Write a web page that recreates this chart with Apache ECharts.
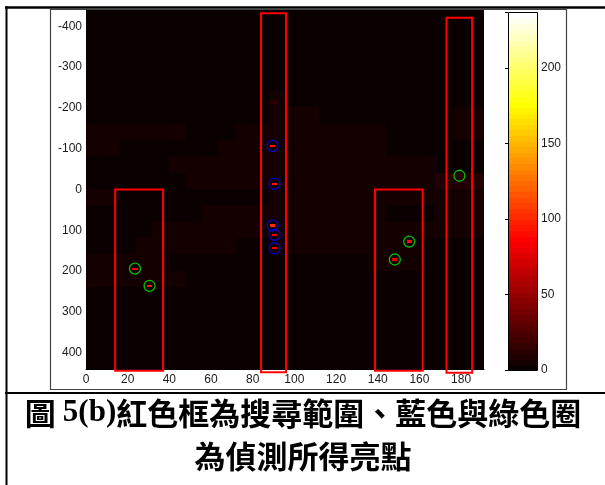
<!DOCTYPE html>
<html>
<head>
<meta charset="utf-8">
<script src="https://cdn.jsdelivr.net/npm/echarts@6/dist/echarts.min.js"></script>
<style>
html, body { margin: 0; padding: 0; background: #ffffff; }
#chart { width: 605px; height: 485px; }
</style>
</head>
<body>
<div id="chart"></div>
<script>
// Axis ticks shown on the Hough plane and on the colour bar
const thetaTicks = [0, 20, 40, 60, 80, 100, 120, 140, 160, 180];
const rhoTicks = [-400, -300, -200, -100, 0, 100, 200, 300, 400];
const colorTicks = [0, 50, 100, 150, 200];
const thetaRange = [0, 191];
const rhoRange = [-440, 440];
const voteMax = 237;

// Background accumulator: one row per 40 rho (from -440), one char per 8 theta (from 0);
// each char is the vote count in units of 3 votes.
const bgTheta0 = 0, bgThetaStep = 8, bgRho0 = -440, bgRhoStep = 40, bgUnit = 3;
const bgRows = [
  '000000000000000000000000',
  '000000000000000000000000',
  '000000000000000000000000',
  '000000000110000111000011',
  '000011101111000011111000',
  '000011101112111111111111',
  '111111111112221111111122',
  '222222111222222222111122',
  '221111112222222222111111',
  '111112222222222222222111',
  '111111222222222222222333',
  '221111111112222222222222',
  '111111122222222222111222',
  '111122222222222222222222',
  '111222222112222222221111',
  '222221111111111112221000',
  '222222111111111111110000',
  '111111110000000000000000',
  '111001110000000000000000',
  '110011100000000000000000',
  '100000000000000000000000',
  '000000000000000000000000'
];

// Accumulator peaks: [theta, rho, votes]
const peaks = [
  [89.6, -107, 95],
  [90.5, -14, 90],
  [89.6, 88.5, 100],
  [90.5, 111, 80],
  [90.5, 144, 78],
  [90, -215, 12],
  [23.5, 194, 85],
  [30.5, 236, 95],
  [155.1, 127.6, 90],
  [148.2, 171.6, 75],
  [179.2, -33.7, 12]
];

// Search windows: [thetaFrom, thetaTo, rhoFrom, rhoTo]
const searchBoxes = [
  [14, 37, 0, 444],
  [84, 96, -432, 448],
  [138.7, 161.6, 0, 444],
  [173, 185.3, -421, 449]
];

// Detected bright points: [theta, rho]
const blueHits = [[89.6, -107], [90.5, -14], [89.6, 88.5], [90.5, 111], [90.5, 144]];
const greenHits = [[23.5, 194], [30.5, 236], [155.1, 127.6], [148.2, 171.6], [179.2, -33.7]];

// MATLAB-style hot(64) colour map
function hotIndexColor(i) {
  const r = Math.min(1, (i + 1) / 24);
  const g = Math.min(1, Math.max(0, (i + 1 - 24) / 24));
  const b = Math.max(0, (i + 1 - 48) / 16);
  const h = (x) => Math.round(x * 255);
  return 'rgb(' + h(r) + ',' + h(g) + ',' + h(b) + ')';
}
function hot64(v) {
  const i = Math.min(63, Math.max(0, Math.floor(v / voteMax * 64)));
  return hotIndexColor(i);
}

// Cells: [theta0, rho0, dTheta, dRho, votes]
const cells = [];
bgRows.forEach((row, r) => {
  for (let c = 0; c < row.length; c++) {
    cells.push([bgTheta0 + c * bgThetaStep, bgRho0 + r * bgRhoStep, bgThetaStep, bgRhoStep, Number(row[c]) * bgUnit]);
  }
});
peaks.forEach(p => {
  const faint = p[2] < 40;
  const dT = faint ? 3 : 2, dR = faint ? 8 : 3;
  cells.push([p[0] - dT / 2, p[1] - dR / 2, dT, dR, p[2]]);
});

// Colour bar bands: [votesFrom, votesTo, index]
const bands = [];
for (let i = 0; i < 64; i++) bands.push([i * voteMax / 64, (i + 1) * voteMax / 64, i]);

function cellRender(params, api) {
  const x0 = api.value(0), y0 = api.value(1), w = api.value(2), h = api.value(3);
  const p0 = api.coord([x0, y0]);
  const p1 = api.coord([x0 + w, y0 + h]);
  const x = Math.floor(Math.min(p0[0], p1[0]));
  const y = Math.floor(Math.min(p0[1], p1[1]));
  const wpx = Math.ceil(Math.max(p0[0], p1[0])) - x;
  const hpx = Math.ceil(Math.max(p0[1], p1[1])) - y;
  return {
    type: 'rect',
    shape: { x: x, y: y, width: wpx, height: hpx },
    style: { fill: hot64(api.value(4)) }
  };
}

function boxRender(params, api) {
  const p0 = api.coord([api.value(0), api.value(2)]);
  const p1 = api.coord([api.value(1), api.value(3)]);
  return {
    type: 'rect',
    shape: {
      x: Math.min(p0[0], p1[0]), y: Math.min(p0[1], p1[1]),
      width: Math.abs(p1[0] - p0[0]), height: Math.abs(p1[1] - p0[1])
    },
    style: { fill: null, stroke: '#ff0000', lineWidth: 2 }
  };
}

// Colour bar: one band per colour-map entry, framed by a thin black box
function bandRender(params, api) {
  const p0 = api.coord([0, api.value(0)]);
  const p1 = api.coord([1, api.value(1)]);
  const y = Math.floor(Math.min(p0[1], p1[1]));
  const band = {
    type: 'rect',
    shape: { x: p0[0], y: y, width: p1[0] - p0[0], height: Math.ceil(Math.abs(p1[1] - p0[1])) + 1 },
    style: { fill: hotIndexColor(api.value(2)) }
  };
  if (params.dataIndex !== bands.length - 1) return band;
  const lo = api.coord([0, 0]);
  const hi = api.coord([1, voteMax]);
  return {
    type: 'group',
    children: [
      band,
      {
        type: 'rect', z2: 10,
        shape: { x: Math.round(lo[0]) + 0.5, y: Math.round(hi[1]) + 0.5,
                 width: Math.round(hi[0] - lo[0]), height: Math.round(lo[1] - hi[1]) },
        style: { fill: null, stroke: '#000', lineWidth: 1 }
      }
    ]
  };
}

const labelFont = { fontFamily: 'Liberation Sans, Arial, sans-serif', fontSize: 12, color: '#1a1a1a' };
const blackLine = { show: true, onZero: false, lineStyle: { color: '#000', width: 1 } };

const chart = echarts.init(document.getElementById('chart'), null, { renderer: 'canvas' });
chart.setOption({
  animation: false,
  backgroundColor: '#ffffff',
  grid: [
    { left: 86, top: 10, width: 398, height: 359, outerBoundsMode: 'none' },
    { left: 508, top: 12, width: 29, height: 358, outerBoundsMode: 'none' }
  ],
  xAxis: [
    {
      type: 'value', gridIndex: 0, min: thetaRange[0], max: thetaRange[1], interval: 20,
      axisLine: blackLine, axisTick: { show: false }, splitLine: { show: false },
      axisLabel: Object.assign({ margin: 5, formatter: v => thetaTicks.includes(v) ? String(v) : '' }, labelFont)
    },
    {
      type: 'value', gridIndex: 1, min: 0, max: 1, position: 'bottom',
      axisLine: { show: false }, axisTick: { show: false }, axisLabel: { show: false }, splitLine: { show: false }
    }
  ],
  yAxis: [
    {
      type: 'value', gridIndex: 0, inverse: true, min: rhoRange[0], max: rhoRange[1], interval: 20,
      axisLine: blackLine, axisTick: { show: false }, splitLine: { show: false },
      axisLabel: Object.assign({ margin: 4, formatter: v => rhoTicks.includes(v) ? String(v) : '' }, labelFont)
    },
    {
      type: 'value', gridIndex: 1, position: 'right', min: 0, max: voteMax, interval: 50,
      axisLine: { show: false }, splitLine: { show: false },
      axisTick: { show: true, inside: true, length: 3, lineStyle: { color: '#000' } },
      axisLabel: Object.assign({ margin: 4, formatter: v => colorTicks.includes(v) ? String(v) : '' }, labelFont)
    },
    {
      type: 'value', gridIndex: 1, position: 'left', min: 0, max: voteMax, interval: 50,
      axisLine: { show: false }, splitLine: { show: false },
      axisTick: { show: true, inside: true, length: 3, lineStyle: { color: '#000' } },
      axisLabel: { show: false }
    }
  ],
  series: [
    {
      type: 'custom', name: 'accumulator', xAxisIndex: 0, yAxisIndex: 0, clip: true, z: 1,
      renderItem: cellRender, data: cells, encode: { x: 0, y: 1 }, silent: true
    },
    {
      type: 'custom', name: 'search windows', xAxisIndex: 0, yAxisIndex: 0, clip: false, z: 3,
      renderItem: boxRender, data: searchBoxes, encode: { x: [0, 1], y: [2, 3] }, silent: true
    },
    {
      type: 'scatter', name: 'blue hits', xAxisIndex: 0, yAxisIndex: 0, z: 4, silent: true,
      symbol: 'circle', symbolSize: 11, data: blueHits,
      itemStyle: { color: 'rgba(0,0,0,0)', borderColor: '#0000ff', borderWidth: 1.3 }
    },
    {
      type: 'scatter', name: 'green hits', xAxisIndex: 0, yAxisIndex: 0, z: 4, silent: true,
      symbol: 'circle', symbolSize: 11, data: greenHits,
      itemStyle: { color: 'rgba(0,0,0,0)', borderColor: '#00ee00', borderWidth: 1.3 }
    },
    {
      type: 'custom', name: 'colour bar', xAxisIndex: 1, yAxisIndex: 1, clip: false, z: 1,
      renderItem: bandRender, data: bands, encode: { y: [0, 1] }, silent: true
    }
  ],
  graphic: [
    { type: 'rect', z: -1, silent: true, shape: { x: 50.5, y: 9.5, width: 516, height: 380 },
      style: { fill: null, stroke: '#444', lineWidth: 1.2 } },
    { type: 'line', silent: true, shape: { x1: 5, y1: 7.5, x2: 605, y2: 7.5 }, style: { stroke: '#000', lineWidth: 2.5 } },
    { type: 'line', silent: true, shape: { x1: 6.5, y1: 6.5, x2: 6.5, y2: 485 }, style: { stroke: '#000', lineWidth: 2 } },
    { type: 'line', silent: true, shape: { x1: 5, y1: 393, x2: 605, y2: 393 }, style: { stroke: '#000', lineWidth: 2 } },
    {
      type: 'text', silent: true, x: 303, y: 413,
      style: {
        text: '{k|圖 }{n|5(b)}{k|紅色框為搜尋範圍、藍色與綠色圈}',
        align: 'center', verticalAlign: 'middle',
        rich: {
          k: { fontFamily: 'Noto Sans CJK TC', fontWeight: 'bold', fontSize: 31, fill: '#000' },
          n: { fontFamily: 'Liberation Serif', fontWeight: 'bold', fontSize: 31, fill: '#000' }
        }
      }
    },
    {
      type: 'text', silent: true, x: 303, y: 456,
      style: {
        text: '為偵測所得亮點', align: 'center', verticalAlign: 'middle',
        fontFamily: 'Noto Sans CJK TC', fontWeight: 'bold', fontSize: 31, fill: '#000'
      }
    }
  ]
});
</script>
</body>
</html>
